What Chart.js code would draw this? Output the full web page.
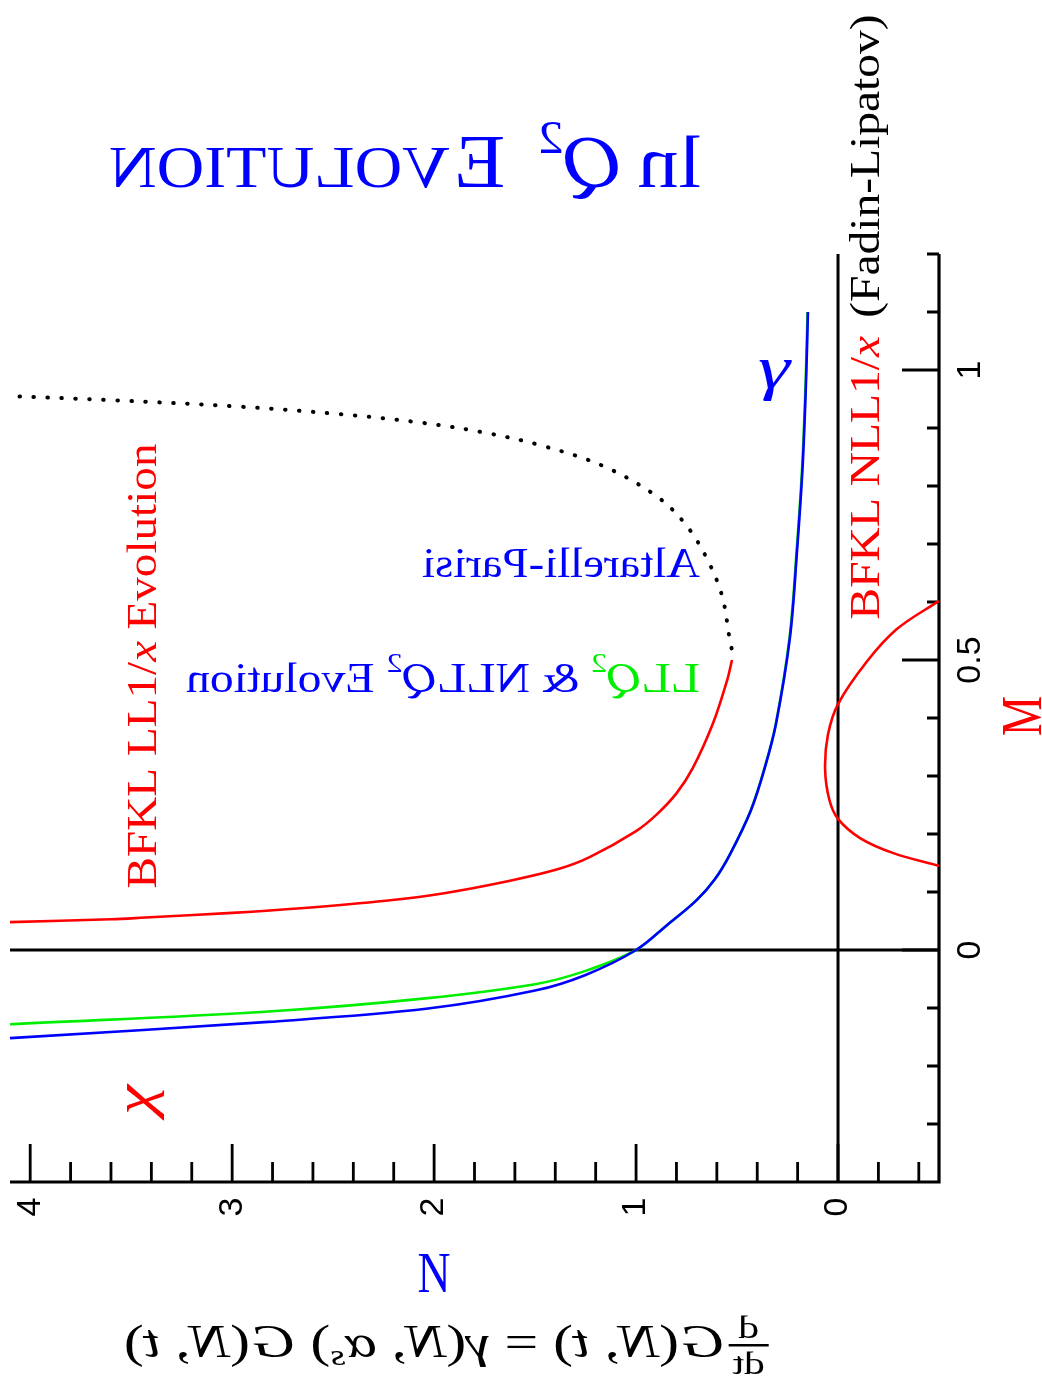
<!DOCTYPE html>
<html>
<head>
<meta charset="utf-8">
<script src="https://cdn.jsdelivr.net/npm/chart.js@4.4.1/dist/chart.umd.min.js"></script>
<style>
html, body { margin: 0; padding: 0; background: #fff; overflow: hidden; }
#wrap { position: relative; width: 1042px; height: 1389px; }
</style>
</head>
<body>
<div id="wrap"><canvas id="chart"></canvas></div>
<script>
// axis ticks: N runs right-to-left along the bottom, M runs up the right side
const nTicks = [0, 1, 2, 3, 4];
const nTickLabels = ['0', '1', '2', '3', '4'];
const mTicks = [0, 0.5, 1];
const mTickLabels = ['0', '0.5', '1'];

// BFKL LL 1/x evolution, lower branch (solid red)
const llN = [4.10, 3.60, 3.43, 3.00, 2.66, 2.24, 1.95, 1.63, 1.38, 1.23, 1.00, 0.90, 0.80, 0.72, 0.62, 0.55, 0.525];
const llM = [0.048, 0.053, 0.056, 0.064, 0.072, 0.085, 0.098, 0.119, 0.140, 0.160, 0.205, 0.233, 0.270, 0.313, 0.390, 0.464, 0.500];

// upper branch continuing the LL curve (dotted black)
const apN = [0.527, 0.537, 0.573, 0.645, 0.753, 0.897, 1.16, 1.46, 1.75, 2.06, 2.47, 2.97, 3.60, 4.10];
const apM = [0.520, 0.537, 0.609, 0.672, 0.733, 0.782, 0.834, 0.869, 0.892, 0.909, 0.924, 0.937, 0.948, 0.955];

// LL Q^2 (green) and NLL Q^2 (blue) anomalous dimension gamma(N)
const llqN = [4.10, 2.82, 2.03, 1.50, 1.25, 1.00, 0.85, 0.70, 0.61, 0.535, 0.432, 0.362, 0.308, 0.240, 0.205, 0.177, 0.160, 0.151];
const llqM = [-0.128, -0.106, -0.083, -0.059, -0.036, 0.0, 0.042, 0.086, 0.122, 0.165, 0.241, 0.316, 0.390, 0.539, 0.688, 0.836, 0.984, 1.100];
const nllqN = [4.10, 2.82, 2.03, 1.50, 1.25, 1.00, 0.85, 0.70, 0.61, 0.535, 0.431, 0.361, 0.307, 0.238, 0.203, 0.175, 0.158, 0.149];
const nllqM = [-0.152, -0.124, -0.101, -0.070, -0.043, 0.0, 0.042, 0.086, 0.122, 0.165, 0.241, 0.316, 0.390, 0.539, 0.688, 0.836, 0.984, 1.100];

// BFKL NLL 1/x (Fadin-Lipatov), red loop near N = 0
const nllN = [-0.50, -0.29, -0.142, 0.0, 0.05, 0.064, 0.043, 0.0, -0.109, -0.274, -0.50];
const nllM = [0.602, 0.553, 0.497, 0.424, 0.371, 0.312, 0.259, 0.226, 0.193, 0.167, 0.145];

const RED = '#ff0000', GREEN = '#00ee00', BLUE = '#0000ff', BLACK = '#000';
const SERIF = '"Liberation Serif", "DejaVu Serif", serif';
const SANS = '"Liberation Sans", Arial, sans-serif';

function pts(ns, ms) {
    return ns.map((n, i) => ({ x: n, y: ms[i] }));
}

function curve(ns, ms, color, extra) {
    return Object.assign({
        data: pts(ns, ms),
        showLine: true,
        borderColor: color,
        borderWidth: 2.6,
        pointRadius: 0,
        tension: 0.35,
        fill: false
    }, extra || {});
}

// draws a run of text pieces, centred on (x, y) at the baseline,
// stretched to a given width, optionally rotated and/or mirrored
function drawRich(ctx, parts, o) {
    ctx.save();
    let total = 0;
    parts.forEach(p => {
        ctx.font = p.font;
        p.w = ctx.measureText(p.t).width + (p.gap || 0);
        total += p.w;
    });
    const sx = o.width ? o.width / total : 1;
    ctx.translate(o.x, o.y);
    if (o.rot) ctx.rotate(o.rot);
    ctx.scale(o.mirror ? -sx : sx, o.sy || 1);
    ctx.textBaseline = 'alphabetic';
    ctx.textAlign = 'left';
    let cx = -total / 2;
    parts.forEach(p => {
        ctx.font = p.font;
        ctx.fillStyle = p.color;
        ctx.fillText(p.t, cx, p.dy || 0);
        cx += p.w;
    });
    ctx.restore();
}

const rom = s => s + 'px ' + SERIF;
const ita = s => 'italic ' + s + 'px ' + SERIF;

const frame = {
    id: 'frame',
    beforeDatasetsDraw(chart) {
        const ctx = chart.ctx, a = chart.chartArea;
        const xs = chart.scales.x, ys = chart.scales.y;
        ctx.save();
        ctx.strokeStyle = BLACK;
        ctx.lineCap = 'butt';

        // zero lines
        ctx.lineWidth = 3;
        const x0 = xs.getPixelForValue(0), y0 = ys.getPixelForValue(0);
        ctx.beginPath();
        ctx.moveTo(x0, a.top); ctx.lineTo(x0, a.bottom);
        ctx.moveTo(a.left, y0); ctx.lineTo(a.right, y0);
        ctx.stroke();

        // axis lines
        ctx.lineWidth = 3.2;
        ctx.beginPath();
        ctx.moveTo(a.left, a.bottom); ctx.lineTo(a.right, a.bottom);
        ctx.moveTo(a.right, a.top); ctx.lineTo(a.right, a.bottom + 1.6);
        ctx.stroke();

        // inward ticks on N axis: minor every 0.2
        ctx.lineWidth = 2.8;
        ctx.beginPath();
        for (let k = -2; k <= 20; k++) {
            const px = xs.getPixelForValue(k * 0.2);
            const len = (k % 5 === 0) ? 38 : 20;
            ctx.moveTo(px, a.bottom); ctx.lineTo(px, a.bottom - len);
        }
        // inward ticks on M axis: minor every 0.1
        for (let k = -3; k <= 12; k++) {
            const py = ys.getPixelForValue(k * 0.1);
            const len = (k % 5 === 0) ? 37 : 12;
            ctx.moveTo(a.right, py); ctx.lineTo(a.right - len, py);
        }
        ctx.stroke();

        // tick labels, turned on their side
        ctx.fillStyle = BLACK;
        ctx.font = '34px ' + SANS;
        ctx.textAlign = 'center';
        ctx.textBaseline = 'middle';
        nTicks.forEach((v, i) => {
            ctx.save();
            ctx.translate(xs.getPixelForValue(v), a.bottom + 25);
            ctx.rotate(-Math.PI / 2);
            ctx.fillText(nTickLabels[i], 0, 0);
            ctx.restore();
        });
        mTicks.forEach((v, i) => {
            ctx.save();
            ctx.translate(a.right + 32, ys.getPixelForValue(v));
            ctx.rotate(-Math.PI / 2);
            ctx.fillText(mTickLabels[i], 0, 0);
            ctx.restore();
        });
        ctx.restore();
    },
    afterDraw(chart) {
        const ctx = chart.ctx;
        const up = -Math.PI / 2;

        // title
        drawRich(ctx, [
            { t: 'ln', font: rom(74), color: BLUE, gap: 14 },
            { t: 'Q', font: ita(74), color: BLUE },
            { t: '2', font: rom(46), color: BLUE, dy: -34, gap: 30 },
            { t: 'E', font: rom(76), color: BLUE, gap: 4 },
            { t: 'VOLUTION', font: rom(60), color: BLUE }
        ], { x: 405, y: 187, width: 592, mirror: true });

        drawRich(ctx, [
            { t: 'Altarelli-Parisi', font: rom(42), color: BLUE }
        ], { x: 561, y: 577, width: 278, mirror: true });

        drawRich(ctx, [
            { t: 'LL', font: rom(42), color: GREEN },
            { t: 'Q', font: ita(42), color: GREEN },
            { t: '2', font: rom(28), color: GREEN, dy: -20 },
            { t: ' & NLL', font: rom(42), color: BLUE },
            { t: 'Q', font: ita(42), color: BLUE },
            { t: '2', font: rom(28), color: BLUE, dy: -20 },
            { t: ' Evolution', font: rom(42), color: BLUE }
        ], { x: 443, y: 692, width: 514, mirror: true });

        drawRich(ctx, [
            { t: 'BFKL LL1/', font: rom(42), color: RED },
            { t: 'x', font: ita(42), color: RED, gap: 10 },
            { t: 'Evolution', font: rom(42), color: RED }
        ], { x: 156, y: 666, width: 445, rot: up });

        drawRich(ctx, [
            { t: 'BFKL NLL1/', font: rom(42), color: RED },
            { t: 'x', font: ita(42), color: RED, gap: 16 },
            { t: '(Fadin-Lipatov)', font: rom(42), color: BLACK }
        ], { x: 879, y: 317, width: 605, rot: up });

        drawRich(ctx, [{ t: 'γ', font: ita(62), color: BLUE }], { x: 774, y: 388, width: 32 });
        drawRich(ctx, [{ t: 'χ', font: ita(54), color: RED }], { x: 152, y: 1100, width: 30, rot: up });

        drawRich(ctx, [{ t: 'N', font: rom(56), color: BLUE }], { x: 434, y: 1292, width: 33 });
        drawRich(ctx, [{ t: 'M', font: rom(56), color: RED }], { x: 1041, y: 716, width: 40, rot: up });

        // evolution equation, mirrored like the other horizontal labels
        const F = 46;
        const eq = [
            { t: 'G', font: ita(F), gap: 2 },
            { t: '(', font: rom(F) },
            { t: 'N', font: ita(F) },
            { t: ', ', font: rom(F) },
            { t: 't', font: ita(F) },
            { t: ') = ', font: rom(F) },
            { t: 'γ', font: ita(F) },
            { t: '(', font: rom(F) },
            { t: 'N', font: ita(F) },
            { t: ', ', font: rom(F) },
            { t: 'α', font: ita(F) },
            { t: 's', font: ita(30), dy: 8 },
            { t: ') ', font: rom(F) },
            { t: 'G', font: ita(F), gap: 2 },
            { t: '(', font: rom(F) },
            { t: 'N', font: ita(F) },
            { t: ', ', font: rom(F) },
            { t: 't', font: ita(F) },
            { t: ')', font: rom(F) }
        ];
        ctx.save();
        ctx.font = rom(32);
        const fracW = ctx.measureText('dt').width + 8;
        let restW = 0;
        eq.forEach(p => { ctx.font = p.font; restW += ctx.measureText(p.t).width + (p.gap || 0); });
        const total = fracW + 2 + restW;
        const sx = 646 / total;
        ctx.translate(447, 1357);
        ctx.scale(-sx, 1);
        let cx = -total / 2;
        // d/dt
        ctx.fillStyle = BLACK;
        ctx.textAlign = 'center';
        ctx.font = rom(32);
        ctx.fillText('d', cx + fracW / 2, -19);
        ctx.fillText('dt', cx + fracW / 2, 17);
        ctx.fillRect(cx + 1, -13, fracW - 2, 2.5);
        ctx.textAlign = 'left';
        cx += fracW + 2;
        eq.forEach(p => {
            ctx.font = p.font;
            ctx.fillText(p.t, cx, p.dy || 0);
            cx += ctx.measureText(p.t).width + (p.gap || 0);
        });
        ctx.restore();
    }
};

// dataset 0 is painted last, so blue sits over green
new Chart(document.getElementById('chart'), {
    type: 'scatter',
    data: {
        datasets: [
            curve(nllqN, nllqM, BLUE),
            curve(llqN, llqM, GREEN),
            curve(llN, llM, RED),
            curve(nllN, nllM, RED),
            curve(apN, apM, BLACK, { borderWidth: 4, borderDash: [0.5, 13.5], borderCapStyle: 'round' })
        ]
    },
    options: {
        responsive: true,
        maintainAspectRatio: false,
        animation: false,
        events: [],
        layout: { padding: { left: 10, right: 103, top: 254, bottom: 207 } },
        plugins: { legend: { display: false }, tooltip: { enabled: false } },
        scales: {
            x: { type: 'linear', reverse: true, min: -0.5, max: 4.1, display: false },
            y: { type: 'linear', min: -0.4, max: 1.2, display: false }
        }
    },
    plugins: [frame]
});
</script>
</body>
</html>
